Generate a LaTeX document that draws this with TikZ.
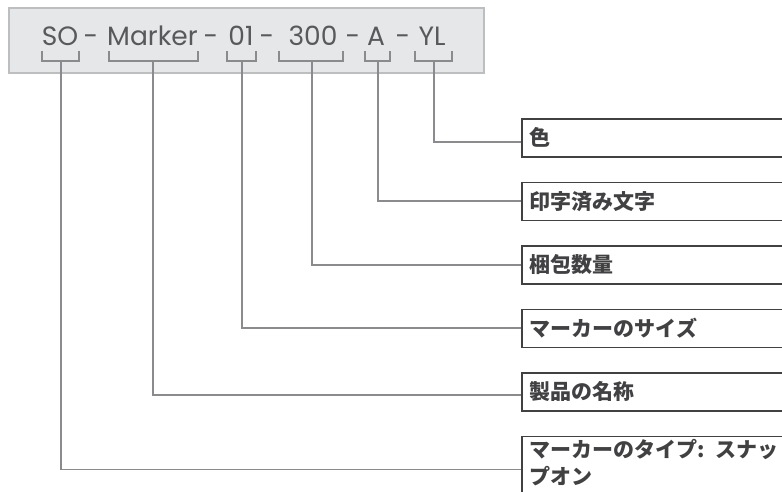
\documentclass[tikz,border=0pt]{standalone}
\usepackage{fontspec}
\usepackage{xcolor}
\usetikzlibrary{positioning}
\setmainfont{Poppins}
\newfontfamily\jpfont{Noto Sans CJK JP}
\definecolor{codegrey}{HTML}{58595B}
\definecolor{panelfill}{HTML}{E6E7E8}
\definecolor{paneledge}{HTML}{BCBEC0}
\definecolor{leadgrey}{HTML}{8A8B8E}
\definecolor{boxedge}{HTML}{414042}

\begin{document}
\begin{tikzpicture}[
    x=1pt, y=-1pt,
    node distance=24pt,
    panel/.style={rectangle, draw=paneledge, fill=panelfill, line width=1.5pt,
                  anchor=north west, minimum width=475pt, minimum height=65pt, inner sep=0pt},
    seg/.style={anchor=base, inner sep=0pt, text=codegrey, font=\fontsize{26.5}{30}\selectfont},
    partbox/.style={rectangle, draw=boxedge, line width=1.5pt, minimum height=38pt,
                    text width=270pt, inner xsep=8pt, inner ysep=0pt, align=left,
                    text=boxedge, font=\jpfont\bfseries\fontsize{21}{29}\selectfont},
    bracket/.style={draw=leadgrey, line width=1.8pt},
    leader/.style={draw=leadgrey, line width=1.8pt}
]
\useasboundingbox (0,0) rectangle (782,491);
\clip (0,0) rectangle (782,491);

% Code panel
\node[panel] (panel) at (8,7) {};
\node[seg] (so) at (60,45) {SO};
\node[seg] (d1) at (91,45) {-};
\node[seg] (marker) at (152.5,45) {Marker};
\node[seg] (d2) at (211,45) {-};
\node[seg] (size) at (241,45) {01};
\node[seg] (d3) at (267,45) {-};
\node[seg] (qty) at (313,45) {300};
\node[seg] (d4) at (353,45) {-};
\node[seg] (letter) at (376,45) {A};
\node[seg] (d5) at (403,45) {-};
\node[seg] (yl) at (432,45) {YL};

% Brackets under each part
\foreach \a/\b in {42/79, 109/198, 227/256, 279/343, 365/390, 415/452}
  \draw[bracket] (\a,51) |- (\b,61) -- (\b,51);

\coordinate (so-b) at (61,61);
\coordinate (marker-b) at (153,61);
\coordinate (size-b) at (242,61);
\coordinate (qty-b) at (312,61);
\coordinate (letter-b) at (378,61);
\coordinate (yl-b) at (434,61);

% Explanation boxes
\node[partbox, anchor=north west] (col) at (521,118) {色};
\node[partbox, below=of col.south west, anchor=north west] (print) {印字済み文字};
\node[partbox, below=of print.south west, anchor=north west] (pack) {梱包数量};
\node[partbox, below=of pack.south west, anchor=north west] (msize) {マーカーのサイズ};
\node[partbox, below=of msize.south west, anchor=north west] (pname) {製品の名称};
\node[partbox, below=of pname.south west, anchor=north west, inner ysep=0pt] (mtype)
     {\rule{0pt}{21pt}マーカーのタイプ: スナッ\\[-2pt]プオン\rule[-20pt]{0pt}{20pt}};

% Leaders
\draw[leader] (yl-b) |- ([yshift=-4pt]col.west);
\draw[leader] (letter-b) |- (print.west);
\draw[leader] (qty-b) |- (pack.west);
\draw[leader] (size-b) |- (msize.west);
\draw[leader] (marker-b) |- ([yshift=-3pt]pname.west);
\draw[leader] (so-b) |- ([yshift=-34pt]mtype.north west);

\end{tikzpicture}
\end{document}
